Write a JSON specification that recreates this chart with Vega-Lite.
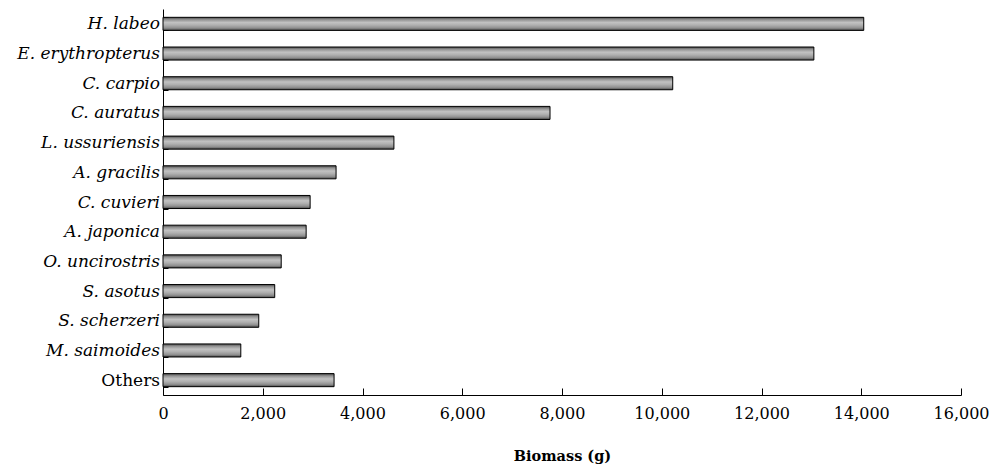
{
  "$schema": "https://vega.github.io/schema/vega-lite/v6.json",
  "autosize": {"type": "none"},
  "padding": {"left": 163, "top": 9, "right": 38, "bottom": 75},
  "width": 798,
  "height": 386,
  "background": "white",
  "config": {"view": {"stroke": null}},
  "data": {"values": [
    {"species": "H. labeo", "biomass": 14050},
    {"species": "E. erythropterus", "biomass": 13050},
    {"species": "C. carpio", "biomass": 10220},
    {"species": "C. auratus", "biomass": 7760},
    {"species": "L. ussuriensis", "biomass": 4630},
    {"species": "A. gracilis", "biomass": 3470},
    {"species": "C. cuvieri", "biomass": 2950},
    {"species": "A. japonica", "biomass": 2870},
    {"species": "O. uncirostris", "biomass": 2370},
    {"species": "S. asotus", "biomass": 2240},
    {"species": "S. scherzeri", "biomass": 1920},
    {"species": "M. saimoides", "biomass": 1560},
    {"species": "Others", "biomass": 3430}
  ]},
  "mark": {
    "type": "bar",
    "stroke": "black",
    "strokeWidth": 1,
    "color": {
      "gradient": "linear",
      "x1": 0, "y1": 0, "x2": 0, "y2": 1,
      "stops": [
        {"offset": 0, "color": "#4a4a4a"},
        {"offset": 0.18, "color": "#939393"},
        {"offset": 0.4, "color": "#c2c2c2"},
        {"offset": 0.6, "color": "#b0b0b0"},
        {"offset": 0.82, "color": "#909090"},
        {"offset": 1, "color": "#4a4a4a"}
      ]
    }
  },
  "encoding": {
    "y": {
      "field": "species",
      "type": "nominal",
      "sort": null,
      "scale": {"paddingInner": 0.56, "paddingOuter": 0.28},
      "axis": {
        "title": null,
        "domainColor": "black",
        "tickColor": "black",
        "tickBand": "extent",
        "tickSize": -5,
        "labelPadding": 8.5,
        "labelFont": "DejaVu Serif",
        "labelFontSize": 17,
        "labelColor": "black",
        "labelFontStyle": {"condition": {"test": "datum.value == 'Others'", "value": "normal"}, "value": "italic"}
      }
    },
    "x": {
      "field": "biomass",
      "type": "quantitative",
      "scale": {"domain": [0, 16000], "nice": false},
      "axis": {
        "title": "Biomass (g)",
        "values": [0, 2000, 4000, 6000, 8000, 10000, 12000, 14000, 16000],
        "format": ",d",
        "grid": false,
        "labelFlush": false,
        "domainColor": "black",
        "tickColor": "black",
        "tickSize": -7,
        "labelPadding": 17,
        "labelFont": "DejaVu Serif",
        "labelFontSize": 16,
        "labelColor": "black",
        "titleFont": "DejaVu Serif",
        "titleFontSize": 14.5,
        "titleFontWeight": "bold",
        "titleColor": "black",
        "titlePadding": 28
      }
    }
  }
}
